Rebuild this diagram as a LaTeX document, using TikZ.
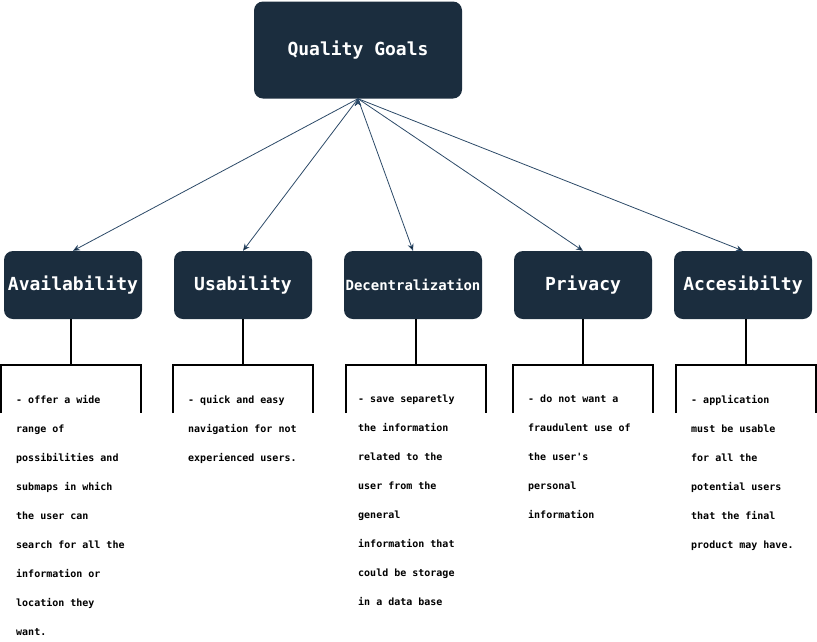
\documentclass[tikz,border=0pt]{standalone}
\usepackage{fontspec}
\setmonofont{DejaVu Sans Mono}
\usetikzlibrary{arrows.meta,positioning}

\definecolor{goalfill}{HTML}{1B2D3E}
\definecolor{arrowcol}{HTML}{2C4A68}

\begin{document}
\begin{tikzpicture}[x=1pt,y=-1pt,>={Stealth[length=7pt,width=6pt]},
    goal/.style={rectangle,rounded corners=9pt,fill=goalfill,text=white,
        minimum width=138pt,minimum height=68pt,font=\ttfamily\bfseries\fontsize{18}{21}\selectfont},
    frame/.style={rectangle,minimum width=140pt,minimum height=48pt,inner sep=0pt},
    desc/.style={anchor=north west,align=left,inner sep=0pt,
        font=\ttfamily\bfseries\fontsize{10}{29}\selectfont},
    link/.style={->,draw=arrowcol,line width=0.8pt},
    stem/.style={draw=black,line width=2pt}]
    \useasboundingbox (0,0) rectangle (817,641);

    \node[goal,minimum width=208pt,minimum height=97pt] (goals) at (358,50) {Quality Goals};

    \node[goal] (avail) at (73,285) {Availability};
    \node[goal] (usab) at (243,285) {Usability};
    \node[goal,inner xsep=1pt,font=\ttfamily\bfseries\fontsize{14}{17}\selectfont] (decent) at (413,285) {Decentralization};
    \node[goal] (priv) at (583,285) {Privacy};
    \node[goal] (acces) at (743,285) {Accesibilty};

    \path[link] (goals.south) edge (avail.north);
    \path[link] (goals.south) edge (usab.north);
    \path[link] (goals.south) edge (decent.north);
    \path[link] (goals.south) edge (priv.north);
    \path[link] (goals.south) edge (acces.north);

    \node[frame] (availf) at (71,389) {};
    \node[frame] (usabf) at (243,389) {};
    \node[frame] (decentf) at (416,389) {};
    \node[frame] (privf) at (583,389) {};
    \node[frame] (accesf) at (746,389) {};

    \draw[stem] (avail.south -| availf.north) -- (availf.north);
    \draw[stem] (usab.south -| usabf.north) -- (usabf.north);
    \draw[stem] (decent.south -| decentf.north) -- (decentf.north);
    \draw[stem] (priv.south -| privf.north) -- (privf.north);
    \draw[stem] (acces.south -| accesf.north) -- (accesf.north);

    \draw[stem] (availf.south west) |- (availf.north east) -- (availf.south east);
    \draw[stem] (usabf.south west) |- (usabf.north east) -- (usabf.south east);
    \draw[stem] (decentf.south west) |- (decentf.north east) -- (decentf.south east);
    \draw[stem] (privf.south west) |- (privf.north east) -- (privf.south east);
    \draw[stem] (accesf.south west) |- (accesf.north east) -- (accesf.south east);

    \node[desc] (availt) at (16,395) {- offer a wide\\range of\\possibilities and\\submaps in which\\the user can\\search for all the\\information or\\location they\\want.};
    \node[desc] (usabt) at (188,395) {- quick and easy\\navigation for not\\experienced users.};
    \node[desc] (decentt) at (358,395) {- save separetly\\the information\\related to the\\user from the\\general\\information that\\could be storage\\in a data base};
    \node[desc] (privt) at (528,395) {- do not want a\\fraudulent use of\\the user's\\personal\\information};
    \node[desc] (accest) at (691,395) {- application\\must be usable\\for all the\\potential users\\that the final\\product may have.};
\end{tikzpicture}
\end{document}
